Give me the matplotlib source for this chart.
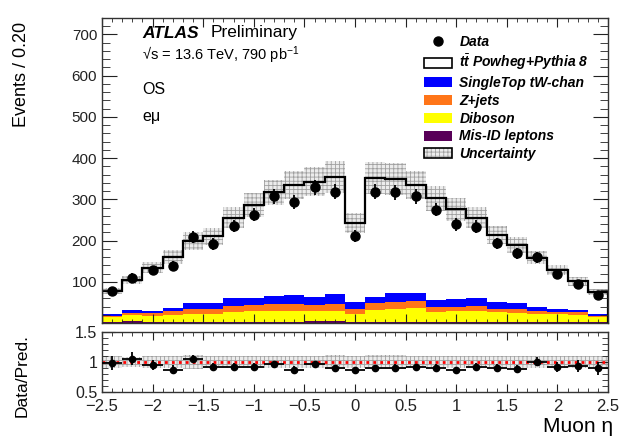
import numpy as np
import matplotlib
matplotlib.use('Agg')
import matplotlib.pyplot as plt
from matplotlib.lines import Line2D
from matplotlib.patches import Patch
from matplotlib.font_manager import FontProperties
from matplotlib.ticker import MultipleLocator, FixedLocator, FuncFormatter

plt.rcParams['font.family'] = ['Liberation Sans', 'DejaVu Sans']
plt.rcParams['mathtext.fontset'] = 'custom'
plt.rcParams['mathtext.rm'] = 'Liberation Sans'
plt.rcParams['mathtext.it'] = 'Liberation Sans:italic:bold'
plt.rcParams['hatch.linewidth'] = 0.6

# muon eta binning, 25 bins of 0.2
edges = np.round(np.arange(-2.5, 2.51, 0.2), 1)
centers = 0.5 * (edges[:-1] + edges[1:])

data = [77, 110, 128, 139, 208, 192, 235, 263, 307, 293, 329, 319, 210,
        319, 317, 307, 275, 239, 234, 193, 169, 159, 118, 94, 68]
ttbar = [57, 73, 105, 123, 149, 162, 195, 225, 251, 267, 279, 284, 191,
         288, 277, 263, 247, 218, 195, 161, 141, 118, 94, 70, 55]
singletop = [4, 6, 5, 8, 14, 14, 18, 18, 21, 22, 21, 24, 17,
             16, 20, 18, 16, 18, 18, 17, 15, 11, 8, 5, 4]
zjets = [2, 6, 6, 10, 12, 11, 15, 15, 16, 16, 15, 16, 12,
         17, 17, 18, 13, 11, 13, 9, 9, 6, 6, 7, 2]
diboson = [13, 15, 15, 16, 20, 20, 24, 25, 26, 27, 24, 26, 20,
           28, 32, 33, 24, 26, 26, 23, 22, 20, 18, 17, 13]
misid = [2, 4, 3, 3, 3, 3, 3, 3, 3, 3, 4, 4, 3,
         3, 3, 3, 3, 3, 3, 3, 3, 3, 3, 2, 2]
rel_unc = [0.10, 0.09, 0.10, 0.10, 0.11, 0.10, 0.10, 0.10, 0.095, 0.10, 0.10, 0.11, 0.10,
           0.11, 0.11, 0.10, 0.10, 0.10, 0.10, 0.10, 0.10, 0.10, 0.10, 0.10, 0.10]

# stack order bottom -> top
stack = [(misid, '#580058', 'Mis-ID leptons'),
         (diboson, '#ffff00', 'Diboson'),
         (zjets, '#ff7518', 'Z+jets'),
         (singletop, '#0000ff', 'SingleTop tW-chan'),
         ]

W, H = 629, 438
def fx(x): return x / W
def fy(y): return 1 - y / H

fig = plt.figure(figsize=(6.29, 4.38), dpi=100)
ax = fig.add_axes([fx(102), fy(323), fx(608) - fx(102), fy(18) - fy(323)])
rax = fig.add_axes([fx(102), fy(392), fx(608) - fx(102), fy(332) - fy(392)])

base = np.zeros(len(data))
for vals, col, lab in stack:
    top = base + np.array(vals)
    ax.stairs(top, edges, baseline=base, fill=True, color=col, lw=0)
    base = top
total = base + np.array(ttbar)
unc = np.array(rel_unc)
data = np.array(data, dtype=float)

hatch_kw = dict(fill=True, facecolor='#ececec', edgecolor='#a0a0a0', hatch='++++', lw=0)
ax.stairs(total * (1 + unc), edges, baseline=total * (1 - unc), **hatch_kw)
ax.stairs(total, edges, color='black', lw=1.6)
ax.errorbar(centers, data, yerr=np.sqrt(data), fmt='o', color='black',
            ms=6.5, lw=1.3, capsize=0, zorder=5)

ax.set_xlim(-2.5, 2.5)
ax.set_ylim(0, 740)
ax.yaxis.set_major_locator(FixedLocator([100, 200, 300, 400, 500, 600, 700]))
ax.yaxis.set_minor_locator(MultipleLocator(20))
ax.xaxis.set_major_locator(MultipleLocator(0.5))
ax.xaxis.set_minor_locator(MultipleLocator(0.1))
ax.tick_params(which='both', direction='in', top=True, right=True, labelbottom=False,
               labelsize=11, colors='#222222')
ax.tick_params(axis='y', which='major', length=11)
ax.tick_params(axis='y', which='minor', length=5.5)
ax.tick_params(axis='x', which='major', length=6.5)
ax.tick_params(axis='x', which='minor', length=3.2)

# ratio panel
ratio = data / total
rax.stairs(1 + unc, edges, baseline=1 - unc, **hatch_kw)
rax.axhline(1, color='red', ls=(0, (1, 1.5)), lw=2)
rax.errorbar(centers, ratio, yerr=np.sqrt(data) / total, xerr=0.1, fmt='o',
             color='black', ms=4.5, lw=1.3, capsize=0, zorder=5)
rax.set_xlim(-2.5, 2.5)
rax.set_ylim(0.5, 1.5)
rax.yaxis.set_major_locator(FixedLocator([0.5, 1, 1.5]))
rax.yaxis.set_minor_locator(MultipleLocator(0.1))
rax.xaxis.set_major_locator(MultipleLocator(0.5))
rax.xaxis.set_minor_locator(MultipleLocator(0.1))
fmt = FuncFormatter(lambda v, p: f'{v:g}'.replace('-', '\u2212'))
rax.xaxis.set_major_formatter(fmt)
rax.yaxis.set_major_formatter(fmt)
rax.tick_params(which='both', direction='in', top=True, right=True,
                labelsize=12, colors='#222222')
rax.tick_params(axis='x', pad=5)
rax.tick_params(axis='y', which='major', length=9)
rax.tick_params(axis='y', which='minor', length=4.5)
rax.tick_params(axis='x', which='major', length=6)
rax.tick_params(axis='x', which='minor', length=3)
rax.tick_params(axis='y', labelsize=11.5)

for a in (ax, rax):
    for s in a.spines.values():
        s.set_linewidth(1.0)
        s.set_color('#333333')

# legend
leg_font = FontProperties(family='Liberation Sans', style='italic', weight='bold', size=10)
handles = [Line2D([], [], marker='o', color='black', ls='none', ms=6.5),
           Patch(facecolor='white', edgecolor='black', lw=1.2)]
labels = ['Data', r'$t\bar{t}$ Powheg+Pythia 8']
for vals, col, lab in stack[::-1]:
    handles.append(Patch(facecolor=col, edgecolor='none'))
    labels.append(lab)
handles.append((Patch(facecolor='#ececec', edgecolor='#a0a0a0', hatch='++++', lw=0),
                Patch(facecolor='none', edgecolor='black', lw=1.2)))
labels.append('Uncertainty')
fig.legend(handles, labels, loc='upper left', bbox_to_anchor=(fx(424), fy(35)),
           bbox_transform=fig.transFigure, frameon=False, prop=leg_font,
           borderpad=0, borderaxespad=0, handlelength=2.0, handleheight=0.75,
           handletextpad=0.55, labelspacing=0.27)

# labels
fig.text(fx(142), fy(33), 'ATLAS', fontsize=12.5, fontweight='bold', fontstyle='italic', va='center')
fig.text(fx(211), fy(33), 'Preliminary', fontsize=12.5, va='center')
fig.text(fx(142), fy(55), '\u221as = 13.6 TeV, 790 pb$^{-1}$', fontsize=10.5, va='center')
fig.text(fx(142), fy(90), 'OS', fontsize=11.5, va='center')
fig.text(fx(142), fy(117), 'e\u03bc', fontsize=11.5, va='center')

fig.text(fx(22), fy(22), 'Events / 0.20', rotation=90, fontsize=13, ha='center', va='top')
fig.text(fx(22), fy(334), 'Data/Pred.', rotation=90, fontsize=12.5, ha='center', va='top')
fig.text(fx(613), fy(427), 'Muon \u03b7', fontsize=15, ha='right', va='center')

fig.savefig('out.png', dpi=100)
